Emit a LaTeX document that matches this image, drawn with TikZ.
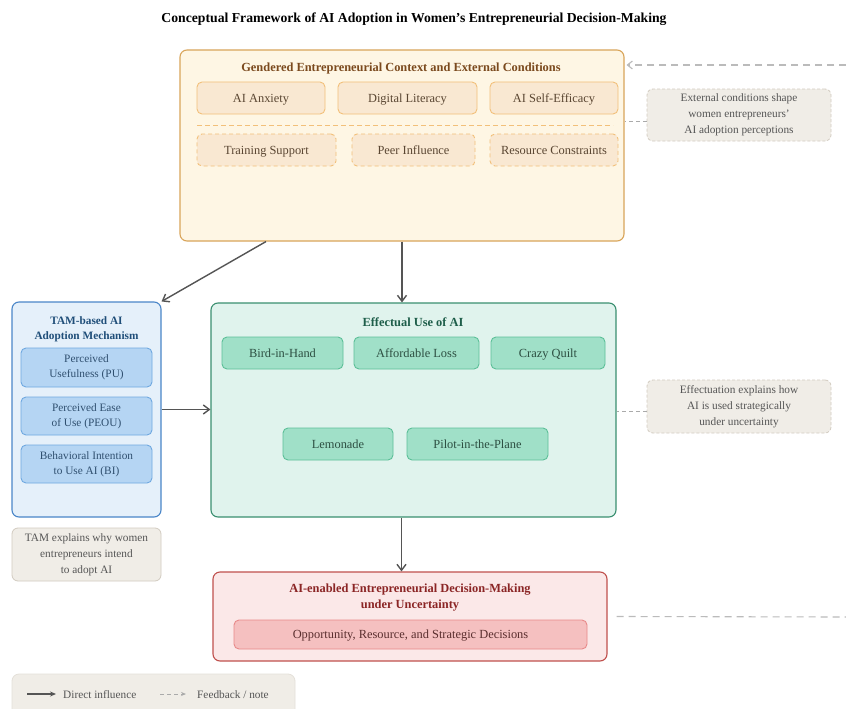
\documentclass[tikz,border=0pt]{standalone}
\usepackage{fontspec}
\setmainfont{Liberation Serif}
\usetikzlibrary{arrows.meta,calc}
\definecolor{topfill}{HTML}{FEF6E4}
\definecolor{topline}{HTML}{D9A55A}
\definecolor{topin}{HTML}{F9E8D2}
\definecolor{topinline}{HTML}{F2C07A}
\definecolor{toptitle}{HTML}{7B4A1E}
\definecolor{toptext}{HTML}{5A4632}
\definecolor{tamfill}{HTML}{E5F0FA}
\definecolor{tamline}{HTML}{4A86C8}
\definecolor{tamin}{HTML}{B5D5F3}
\definecolor{taminline}{HTML}{6FA8E0}
\definecolor{tamtitle}{HTML}{1F4E79}
\definecolor{tamtext}{HTML}{2F4F6F}
\definecolor{midfill}{HTML}{E0F3ED}
\definecolor{midline}{HTML}{3A8F70}
\definecolor{midin}{HTML}{A0E0C8}
\definecolor{midinline}{HTML}{5CBF98}
\definecolor{midtitle}{HTML}{1E5E4A}
\definecolor{midtext}{HTML}{2D4F42}
\definecolor{decfill}{HTML}{FBE8E8}
\definecolor{decline}{HTML}{C0504D}
\definecolor{decin}{HTML}{F5C0C0}
\definecolor{decinline}{HTML}{E88A8A}
\definecolor{dectitle}{HTML}{8B2525}
\definecolor{dectext}{HTML}{5A2E2E}
\definecolor{notefill}{HTML}{F0EDE7}
\definecolor{noteline}{HTML}{D2CBC0}
\definecolor{notetext}{HTML}{555555}
\definecolor{arrowc}{HTML}{555555}
\definecolor{dashc}{HTML}{AAAAAA}
\tikzset{
  box/.style={draw, rounded corners=7pt, line width=1.1pt, inner sep=0pt, align=center},
  inbox/.style={draw, rounded corners=5pt, line width=0.9pt, inner sep=0pt, align=center, font=\fontsize{12.4}{15}\selectfont, text height=8.6pt, text depth=0pt},
  topbox/.style={box, fill=topfill, draw=topline},
  topinner/.style={inbox, fill=topin, draw=topinline, text=toptext},
  topdash/.style={topinner, dashed, dash pattern=on 4pt off 3pt},
  tambox/.style={box, fill=tamfill, draw=tamline},
  taminner/.style={draw, rounded corners=5pt, line width=0.9pt, inner sep=0pt, align=center, fill=tamin, draw=taminline, text=tamtext, font=\fontsize{11.3}{15}\selectfont},
  midbox/.style={box, fill=midfill, draw=midline},
  midinner/.style={inbox, fill=midin, draw=midinline, text=midtext},
  decbox/.style={box, fill=decfill, draw=decline},
  decinner/.style={inbox, fill=decin, draw=decinline, text=dectext},
  notebox/.style={draw=noteline, fill=notefill, rounded corners=6pt, line width=0.8pt, align=center, inner sep=0pt, text=notetext, font=\fontsize{11.3}{16}\selectfont},
  titletext/.style={font=\bfseries\fontsize{12.4}{16}\selectfont, align=center, inner sep=0pt},
  flow/.style={draw=arrowc, line width=1.4pt, -{Straight Barb[length=6pt,width=9pt]}},
  notelink/.style={draw=dashc, line width=0.9pt, dash pattern=on 4pt off 3pt},
  feedback/.style={draw=dashc!80, line width=1.1pt, dash pattern=on 7pt off 5pt},
}
\begin{document}
\begin{tikzpicture}[x=1pt,y=-1pt]
\clip (0,0) rectangle (846,709);
\fill[white] (0,0) rectangle (846,709);

% title
\node[font=\bfseries\fontsize{13.7}{16}\selectfont, inner sep=0pt] (title) at (414,19) {Conceptual Framework of AI Adoption in Women’s Entrepreneurial Decision-Making};

% top box
\node[topbox, minimum width=444pt, minimum height=191pt] (top) at (402,145.5) {};
\node[titletext, text=toptitle] (toptitle) at (401,69) {Gendered Entrepreneurial Context and External Conditions};
\node[topinner, minimum width=128pt, minimum height=32pt] (anx) at (261,98) {AI Anxiety};
\node[topinner, minimum width=139pt, minimum height=32pt] (dig) at (407.5,98) {Digital Literacy};
\node[topinner, minimum width=128pt, minimum height=32pt] (eff) at (554,98) {AI Self-Efficacy};
\coordinate (sepL) at (197,125);
\coordinate (sepR) at (613,125);
\draw[draw=topinline, line width=0.9pt, dash pattern=on 5pt off 3pt] (sepL) -- (sepR);
\node[topdash, minimum width=139pt, minimum height=32pt] (train) at (266.5,150) {Training Support};
\node[topdash, minimum width=123pt, minimum height=32pt] (peer) at (413.5,150) {Peer Influence};
\node[topdash, minimum width=128pt, minimum height=32pt] (res) at (554,150) {Resource Constraints};

% note 1
\node[notebox, dashed, dash pattern=on 3pt off 2pt, minimum width=184pt, minimum height=52pt] (note1) at (739,115) {External conditions shape\\women entrepreneurs'\\AI adoption perceptions};

% TAM box
\node[tambox, minimum width=149pt, minimum height=215pt] (tam) at (86.5,409.5) {};
\node[titletext, text=tamtitle, font=\bfseries\fontsize{11.3}{15}\selectfont] (tamtitle) at (86.5,329) {TAM-based AI\\Adoption Mechanism};
\node[taminner, minimum width=131pt, minimum height=39pt] (pu) at (86.5,367.5) {Perceived\\Usefulness (PU)};
\node[taminner, minimum width=131pt, minimum height=38pt] (peou) at (86.5,416) {Perceived Ease\\of Use (PEOU)};
\node[taminner, minimum width=131pt, minimum height=38pt] (bi) at (86.5,464) {Behavioral Intention\\to Use AI (BI)};
\node[notebox, minimum width=149pt, minimum height=53pt] (tamnote) at (86.5,554.5) {TAM explains why women\\entrepreneurs intend\\to adopt AI};

% middle box
\node[midbox, minimum width=405pt, minimum height=214pt] (mid) at (413.5,410) {};
\node[titletext, text=midtitle] (midtitle) at (413,322) {Effectual Use of AI};
\node[midinner, minimum width=121pt, minimum height=32pt] (bird) at (282.5,353) {Bird-in-Hand};
\node[midinner, minimum width=125pt, minimum height=32pt] (afford) at (416.5,353) {Affordable Loss};
\node[midinner, minimum width=114pt, minimum height=32pt] (quilt) at (548,353) {Crazy Quilt};
\node[midinner, minimum width=110pt, minimum height=32pt] (lemon) at (338,444) {Lemonade};
\node[midinner, minimum width=141pt, minimum height=32pt] (pilot) at (477.5,444) {Pilot-in-the-Plane};

% note 2
\node[notebox, dashed, dash pattern=on 3pt off 2pt, minimum width=184pt, minimum height=53pt] (note2) at (739,406.5) {Effectuation explains how\\AI is used strategically\\under uncertainty};

% decision box
\node[decbox, minimum width=394pt, minimum height=89pt] (dec) at (410,616.5) {};
\node[titletext, text=dectitle] (dectitle) at (410,597.5) {AI-enabled Entrepreneurial Decision-Making\\under Uncertainty};
\node[decinner, minimum width=353pt, minimum height=29pt] (decin) at (410.5,634.5) {Opportunity, Resource, and Strategic Decisions};

% flows
\draw[flow] ([xshift=-136pt]top.south) -- (tam.north east);
\draw[flow] (top.south) -- (top.south |- mid.north);
\draw[flow] (tam.east) -- (tam.east -| mid.west);
\draw[flow] ([xshift=-12pt]mid.south) -- ([xshift=-12pt]mid.south |- dec.north);

% note links
\draw[notelink] ([yshift=-6pt]note1.west) -- ([yshift=-6pt]note1.west -| top.east);
\draw[notelink] ([yshift=-4.5pt]note2.west) -- ([yshift=-4.5pt]note2.west -| mid.east);

% feedback
\coordinate (fbin) at (846,65);
\coordinate (fbout) at (846,617);
\draw[feedback, -{Straight Barb[length=5pt,width=8pt]}] (fbin) -- ([xshift=2pt]top.east |- fbin);
\draw[feedback] ([xshift=9pt]dec.east) -- (fbout);

% legend
\node[draw=noteline!60, fill=notefill, rounded corners=7pt, line width=0.8pt, minimum width=283pt, minimum height=60pt, inner sep=0pt] (legend) at (153.5,704) {};
\coordinate (l1a) at (27,694);
\coordinate (l1b) at (56,694);
\draw[draw=arrowc, line width=1.4pt, -{Stealth[length=6pt,width=5pt]}] (l1a) -- (l1b);
\node[anchor=west, inner sep=0pt, text=notetext, font=\fontsize{11.3}{13}\selectfont] (l1t) at (63,694.5) {Direct influence};
\coordinate (l2a) at (160,694);
\coordinate (l2b) at (186,694);
\draw[draw=dashc, line width=1pt, dash pattern=on 4pt off 3pt, -{Stealth[length=5pt,width=4pt]}] (l2a) -- (l2b);
\node[anchor=west, inner sep=0pt, text=notetext, font=\fontsize{11.3}{13}\selectfont] (l2t) at (197,694.5) {Feedback / note};
\end{tikzpicture}
\end{document}
